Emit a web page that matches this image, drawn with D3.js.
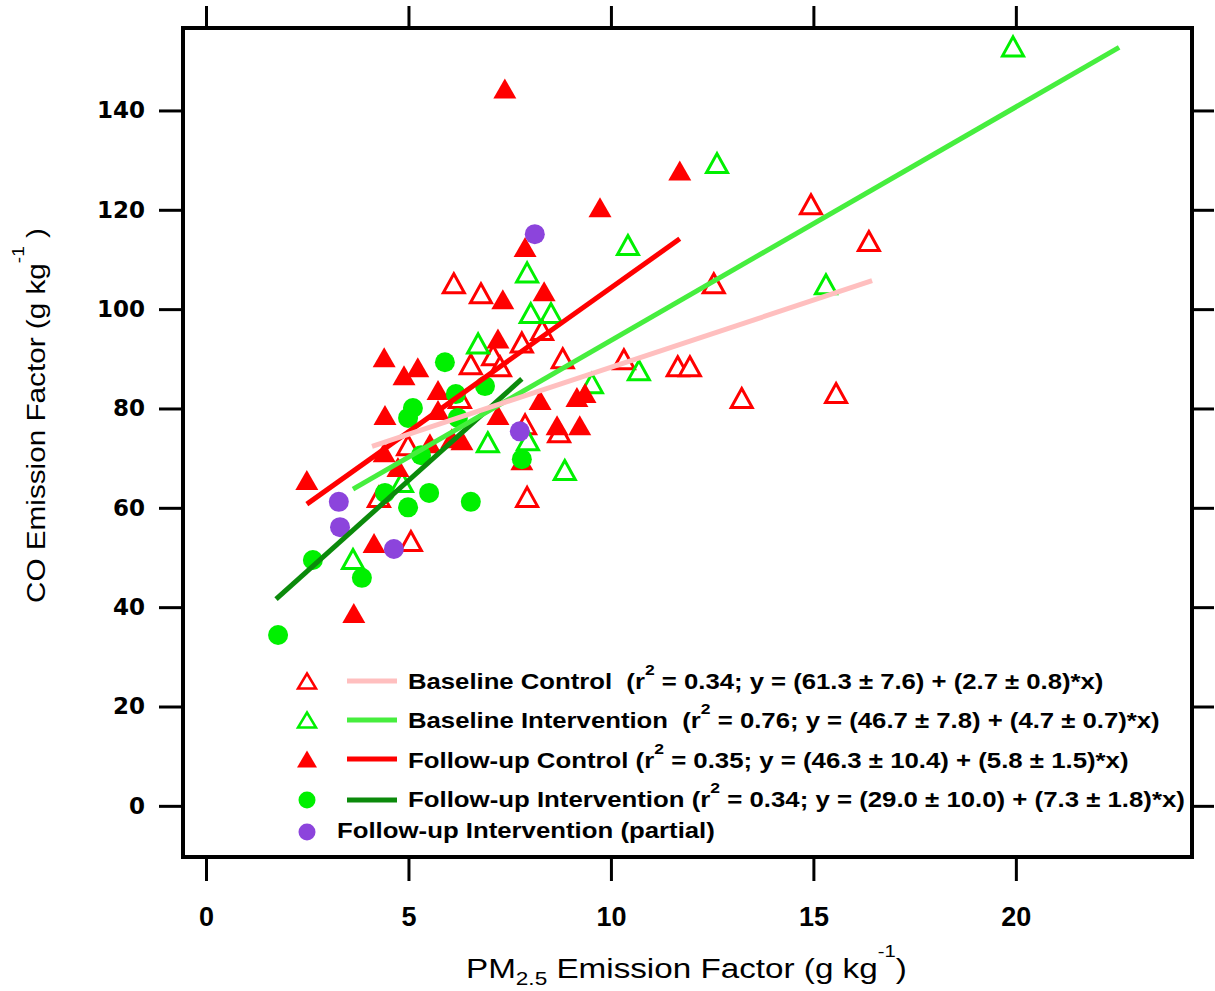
<!DOCTYPE html>
<html>
<head>
<meta charset="utf-8">
<script src="https://cdn.jsdelivr.net/npm/d3@7"></script>
<style>
  body { margin: 0; background: #fff; }
  text { white-space: pre; }
</style>
</head>
<body>
<svg id="chart" width="1215" height="991"></svg>
<script>
// PM2.5 vs CO emission factors, [pm25, co] pairs
var baselineControl = [
  [14.94, 121.1], [16.37, 113.7], [12.54, 105.2], [10.32, 89.9], [8.81, 90.1],
  [11.65, 88.5], [11.95, 88.5], [13.23, 82.1], [15.56, 83.1], [6.12, 105.2],
  [6.79, 103.2], [6.54, 88.9], [7.09, 90.7], [7.26, 88.5], [7.80, 93.3],
  [8.30, 95.8], [7.88, 76.8], [8.72, 75.2], [7.93, 62.2], [4.99, 72.6],
  [4.27, 62.2], [5.06, 53.3], [6.27, 82.1]
];
var baselineIntervention = [
  [19.93, 152.9], [12.62, 129.4], [10.42, 112.9], [7.93, 107.4], [8.02, 99.2],
  [8.52, 99.2], [6.72, 93.1], [15.31, 105.0], [9.53, 85.1], [10.69, 87.7],
  [8.86, 67.6], [7.95, 73.6], [6.96, 73.2], [4.84, 65.2], [3.63, 49.7]
];
var followupControl = [
  [7.38, 144.4], [11.70, 127.9], [9.73, 120.5], [7.88, 112.5], [8.35, 103.6],
  [7.33, 102.0], [7.21, 94.1], [4.40, 90.3], [5.23, 88.3], [4.89, 86.7],
  [5.73, 83.7], [4.42, 78.7], [8.25, 81.7], [9.16, 82.3], [9.36, 83.1],
  [7.21, 78.7], [8.67, 76.6], [9.23, 76.6], [2.49, 65.6], [4.40, 71.2],
  [4.74, 68.2], [4.15, 52.9], [3.65, 38.8], [6.32, 73.6], [7.80, 69.6],
  [5.73, 79.7], [6.07, 74.0], [5.53, 73.0]
];
var followupIntervention = [
  [1.78, 34.4], [2.64, 49.5], [3.85, 45.9], [4.42, 63.0], [4.99, 60.1],
  [5.51, 63.0], [6.54, 61.2], [7.80, 69.8], [5.90, 89.3], [6.17, 82.9],
  [6.89, 84.5], [5.11, 80.1], [4.99, 78.1], [6.22, 78.1], [5.31, 70.6]
];
var followupPartial = [
  [8.12, 115.1], [3.28, 61.2], [3.31, 56.1], [4.64, 51.7], [7.75, 75.4]
];

// regression fits: intercept, slope, and x span of each line
var fitNames = ["Baseline Control", "Baseline Intervention", "Follow-up Control", "Follow-up Intervention"];
var fitIntercept = [61.3, 46.7, 46.3, 29.0];
var fitSlope = [2.7, 4.7, 5.8, 7.3];
var fitRange = [[4.1, 16.45], [3.63, 22.55], [2.49, 11.7], [1.73, 7.8]];
var fitColors = ["#ffbfbf", "#46ee3e", "#ff0000", "#0b8a0b"];

var xTicks = [0, 5, 10, 15, 20];
var yTicks = [0, 20, 40, 60, 80, 100, 120, 140];

var legendText = [
  ["Baseline Control  (r", "2", " = 0.34; y = (61.3 \u00b1 7.6) + (2.7 \u00b1 0.8)*x)"],
  ["Baseline Intervention  (r", "2", " = 0.76; y = (46.7 \u00b1 7.8) + (4.7 \u00b1 0.7)*x)"],
  ["Follow-up Control (r", "2", " = 0.35; y = (46.3 \u00b1 10.4) + (5.8 \u00b1 1.5)*x)"],
  ["Follow-up Intervention (r", "2", " = 0.34; y = (29.0 \u00b1 10.0) + (7.3 \u00b1 1.8)*x)"],
  ["Follow-up Intervention (partial)"]
];

var red = "#ff0000", lime = "#00f000", purple = "#8c44dc";

var svg = d3.select("#chart");
svg.append("rect").attr("width", 1215).attr("height", 991).attr("fill", "#fff");

// plot frame edges
var frameL = 183, frameR = 1192, frameT = 28, frameB = 857;
var x = d3.scaleLinear().domain([-0.568, 24.35]).range([frameL, frameR]);
var y = d3.scaleLinear().domain([-10.3, 156.6]).range([frameB, frameT]);

// triangle path centred on its box
function tri(w, h) {
  return "M0," + (-h / 2) + "L" + (w / 2) + "," + (h / 2) + "L" + (-w / 2) + "," + (h / 2) + "Z";
}

// squeeze a text horizontally so it spans the given width from x0
function fitWidth(sel, x0, width) {
  var bw = sel.node().getBBox().width;
  var s = width / bw;
  sel.attr("transform", "translate(" + x0 + ",0) scale(" + s + ",1) translate(" + (-x0) + ",0)");
}

// points
var pts = svg.append("g");
pts.selectAll(".bc").data(baselineControl).enter().append("path")
  .attr("d", tri(21, 19))
  .attr("transform", function (d) { return "translate(" + x(d[0]) + "," + y(d[1]) + ")"; })
  .attr("fill", "#fff").attr("stroke", red).attr("stroke-width", 3);
pts.selectAll(".bi").data(baselineIntervention).enter().append("path")
  .attr("d", tri(21, 19))
  .attr("transform", function (d) { return "translate(" + x(d[0]) + "," + y(d[1]) + ")"; })
  .attr("fill", "none").attr("stroke", lime).attr("stroke-width", 3);
pts.selectAll(".fc").data(followupControl).enter().append("path")
  .attr("d", tri(23, 20))
  .attr("transform", function (d) { return "translate(" + x(d[0]) + "," + y(d[1]) + ")"; })
  .attr("fill", red);
pts.selectAll(".fi").data(followupIntervention).enter().append("circle")
  .attr("cx", function (d) { return x(d[0]); })
  .attr("cy", function (d) { return y(d[1]); })
  .attr("r", 10).attr("fill", lime);
pts.selectAll(".fp").data(followupPartial).enter().append("circle")
  .attr("cx", function (d) { return x(d[0]); })
  .attr("cy", function (d) { return y(d[1]); })
  .attr("r", 10).attr("fill", purple);

// fit lines, drawn on top of the markers
[3, 2, 1, 0].forEach(function (i) {
  var r = fitRange[i];
  svg.append("line")
    .attr("x1", x(r[0])).attr("y1", y(fitIntercept[i] + fitSlope[i] * r[0]))
    .attr("x2", x(r[1])).attr("y2", y(fitIntercept[i] + fitSlope[i] * r[1]))
    .attr("stroke", fitColors[i]).attr("stroke-width", 5);
});

// frame
svg.append("rect")
  .attr("x", frameL).attr("y", frameT)
  .attr("width", frameR - frameL).attr("height", frameB - frameT)
  .attr("fill", "none").attr("stroke", "#000").attr("stroke-width", 4);

// axes (ticks outside the frame on all four sides)
function styleAxis(g) {
  g.select(".domain").remove();
  g.selectAll(".tick line").attr("stroke", "#000").attr("stroke-width", 3);
}
var gx = svg.append("g").attr("transform", "translate(0," + (frameB + 2) + ")")
  .call(d3.axisBottom(x).tickValues(xTicks).tickSize(22)).call(styleAxis);
gx.selectAll("text").attr("y", 67).attr("dy", 0)
  .style("font-family", "'Liberation Sans', Arial, sans-serif")
  .style("font-weight", "bold").style("font-size", "27px").attr("fill", "#000");

svg.append("g").attr("transform", "translate(0," + (frameT - 2) + ")")
  .call(d3.axisTop(x).tickValues(xTicks).tickSize(20).tickFormat("")).call(styleAxis);

var gy = svg.append("g").attr("transform", "translate(" + (frameL - 2) + ",0)")
  .call(d3.axisLeft(y).tickValues(yTicks).tickSize(22).tickPadding(14)).call(styleAxis);
gy.selectAll("text")
  .style("font-family", "'DejaVu Sans', sans-serif")
  .style("font-weight", "bold").style("font-size", "23px").attr("fill", "#000");

svg.append("g").attr("transform", "translate(" + (frameR + 2) + ",0)")
  .call(d3.axisRight(y).tickValues(yTicks).tickSize(20).tickFormat("")).call(styleAxis);

// axis titles
var font = "'Liberation Sans', Arial, sans-serif";
var xt = svg.append("text").attr("x", 466).attr("y", 978)
  .style("font-family", font).style("font-size", "28px").attr("fill", "#000");
xt.append("tspan").text("PM");
xt.append("tspan").attr("dy", 7).style("font-size", "19px").text("2.5");
xt.append("tspan").attr("dy", -7).text(" Emission Factor (g kg");
xt.append("tspan").attr("dy", -21).style("font-size", "17px").text("-1");
xt.append("tspan").attr("dy", 21).text(")");
fitWidth(xt, 466, 441);

var yg = svg.append("g").attr("transform", "translate(45,603) rotate(-90)");
var yt = yg.append("text").attr("x", 0).attr("y", 0)
  .style("font-family", font).style("font-size", "25px").attr("fill", "#000");
yt.append("tspan").text("CO Emission Factor (g kg");
yt.append("tspan").attr("dy", -21).style("font-size", "16px").text("-1");
yt.append("tspan").attr("dy", 21).text(" )");
fitWidth(yt, 0, 375);

// legend
var rowMarkY = [681, 720, 759, 800, 832];
var rowBase = [689, 728, 768, 807, 838];
var lg = svg.append("g");
lg.append("path").attr("d", tri(18, 15)).attr("transform", "translate(307," + rowMarkY[0] + ")")
  .attr("fill", "#fff").attr("stroke", red).attr("stroke-width", 2.5);
lg.append("path").attr("d", tri(18, 15)).attr("transform", "translate(307," + rowMarkY[1] + ")")
  .attr("fill", "#fff").attr("stroke", lime).attr("stroke-width", 2.5);
lg.append("path").attr("d", tri(20, 17)).attr("transform", "translate(307," + rowMarkY[2] + ")")
  .attr("fill", red);
lg.append("circle").attr("cx", 307).attr("cy", rowMarkY[3]).attr("r", 8.5).attr("fill", lime);
lg.append("circle").attr("cx", 307).attr("cy", rowMarkY[4]).attr("r", 8.5).attr("fill", purple);

[0, 1, 2, 3].forEach(function (i) {
  lg.append("line").attr("x1", 347).attr("x2", 397)
    .attr("y1", rowMarkY[i]).attr("y2", rowMarkY[i])
    .attr("stroke", fitColors[i]).attr("stroke-width", 5);
});

var legStart = [408, 408, 408, 408, 337];
var legWidth = [696, 752, 721, 777, 378];
legendText.forEach(function (parts, i) {
  var t = lg.append("text").attr("x", legStart[i]).attr("y", rowBase[i])
    .style("font-family", font).style("font-weight", "bold")
    .style("font-size", "22px").attr("fill", "#000");
  t.append("tspan").text(parts[0]);
  if (parts.length > 1) {
    t.append("tspan").attr("dy", -14).style("font-size", "15px").text(parts[1]);
    t.append("tspan").attr("dy", 14).text(parts[2]);
  }
  fitWidth(t, legStart[i], legWidth[i]);
});
</script>
</body>
</html>
